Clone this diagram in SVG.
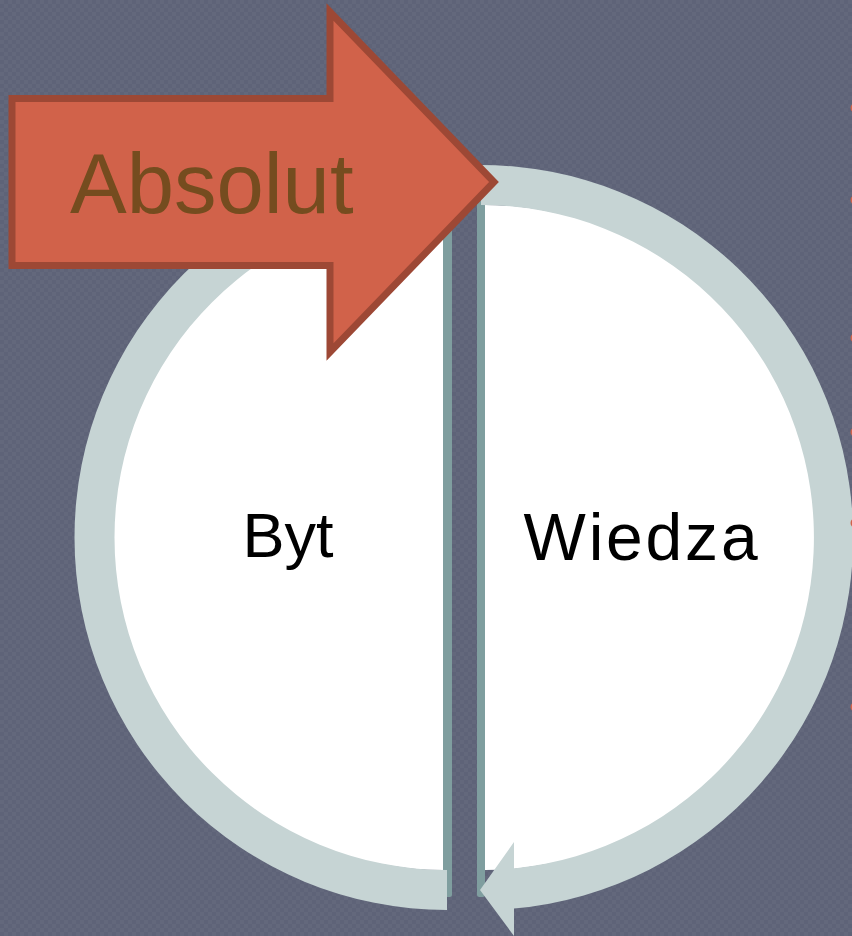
<svg xmlns="http://www.w3.org/2000/svg" width="852" height="936" viewBox="0 0 852 936">
  <defs>
    <pattern id="tex" width="8" height="8" patternUnits="userSpaceOnUse">
      <rect width="8" height="8" fill="#5E6378"/>
      <rect width="4" height="4" fill="#63687C"/>
      <rect x="4" y="4" width="4" height="4" fill="#63687C"/>
    </pattern>
  </defs>
  <style>
    .lbl { font-family: "Liberation Sans", Arial, sans-serif; fill: #000000; text-anchor: middle; }
    .ring { fill: #C6D4D4; }
    .bar { fill: #7F9E9F; }
    .half { fill: #FFFFFF; }
    .dot { fill: #D1624A; }
  </style>
  <rect width="852" height="936" fill="url(#tex)"/>

  <g id="node-byt">
    <path class="half" d="M443,205 A332.5,332.5 0 0 0 443,870 Z"/>
    <rect class="bar" x="443" y="200" width="9" height="697" rx="2.5"/>
  </g>
  <g id="node-wiedza">
    <path class="half" d="M485,205 A332.5,332.5 0 0 1 485,870 Z"/>
    <rect class="bar" x="477" y="200" width="8" height="697" rx="2.5"/>
  </g>

  <g id="connectors">
    <path class="ring" d="M447,910 A372.5,372.5 0 0 1 447,165 L447,205 A332.5,332.5 0 0 0 447,870 Z"/>
    <path class="ring" d="M481,165 A372.5,372.5 0 0 1 514,908.5 L514,936 L480,890 L514,842 L514,868.4 A332.5,332.5 0 0 0 481,205 Z"/>
  </g>

  <text class="lbl" x="288" y="557" font-size="63">Byt</text>
  <text class="lbl" x="642" y="560" font-size="66" letter-spacing="2.8">Wiedza</text>

  <g id="node-absolut">
    <polygon points="12,98.5 330,98.5 330,12 494,182 330,352 330,265.5 12,265.5" fill="#D1624A" stroke="#9D4835" stroke-width="7"/>
    <text x="70" y="213" font-family="'Liberation Sans', Arial, sans-serif" font-size="85" fill="#754C1F">Absolut</text>
  </g>

  <g id="dots">
    <circle class="dot" cx="855.5" cy="108" r="5"/>
    <circle class="dot" cx="855.5" cy="200" r="5"/>
    <circle class="dot" cx="855.5" cy="338" r="5"/>
    <circle class="dot" cx="855.5" cy="432" r="5"/>
    <circle class="dot" cx="855.5" cy="523" r="5"/>
    <circle class="dot" cx="855.5" cy="707" r="5"/>
  </g>
</svg>
